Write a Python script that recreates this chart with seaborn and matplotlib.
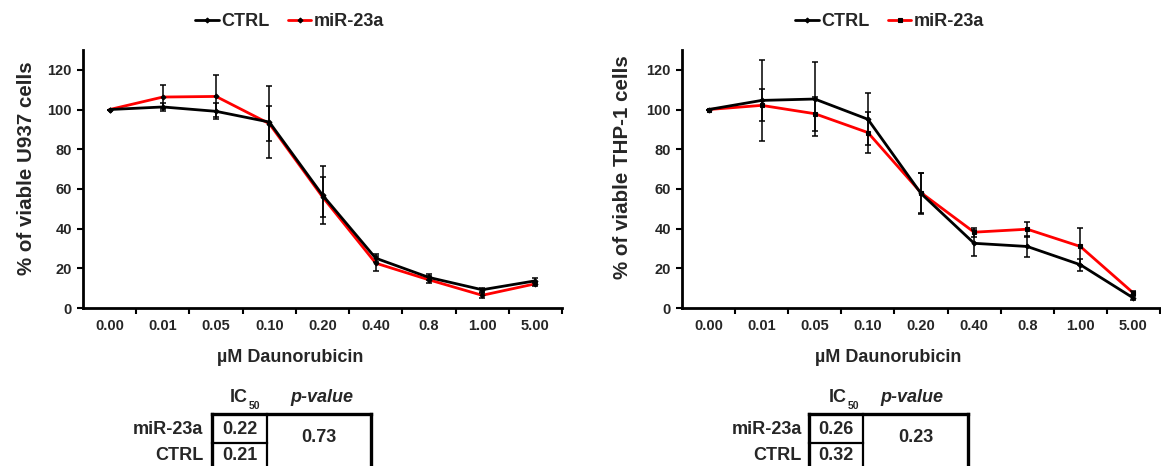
import numpy as np
import pandas as pd
import matplotlib
matplotlib.use("Agg")
import matplotlib.pyplot as plt
from matplotlib.lines import Line2D
import seaborn as sns

# ---------------- data ----------------
doses = ["0.00", "0.01", "0.05", "0.10", "0.20", "0.40", "0.8", "1.00", "5.00"]

u937_ctrl = [100, 101.3, 99.1, 93.7, 56.9, 25.1, 15.4, 9.2, 13.7]
u937_ctrl_err = [0, 2.0, 4.0, 18.0, 14.5, 2.0, 1.5, 1.0, 1.3]
u937_mir = [100, 106.3, 106.6, 92.9, 56.0, 22.6, 14.2, 6.4, 12.2]
u937_mir_err = [0, 6.0, 10.6, 9.0, 10.0, 3.8, 1.8, 1.4, 1.0]

thp1_ctrl = [100, 104.6, 105.3, 95.1, 57.7, 32.6, 31.0, 21.8, 5.0]
thp1_ctrl_err = [0, 20.5, 18.5, 13.0, 10.5, 6.5, 5.5, 3.0, 1.0]
thp1_mir = [100, 102.1, 97.9, 88.4, 58.1, 38.2, 39.7, 31.0, 7.5]
thp1_mir_err = [0, 8.0, 8.5, 10.5, 10.0, 2.3, 3.8, 9.5, 1.0]

series_names = ["CTRL", "miR-23a"]
ylabels = ["% of viable U937 cells", "% of viable THP-1 cells"]
xlabel = "\u00b5M Daunorubicin"
ic50_u937 = ["0.22", "0.21"]
ic50_thp1 = ["0.26", "0.32"]
pvals = ["0.73", "0.23"]
yticks = [0, 20, 40, 60, 80, 100, 120]

# ---------------- style ----------------
sns.set_style("ticks")
plt.rcParams["font.family"] = ["Liberation Sans", "DejaVu Sans"]
plt.rcParams["font.weight"] = "bold"
plt.rcParams["axes.labelweight"] = "bold"

W, H = 1161, 466
fig = plt.figure(figsize=(W / 100, H / 100), dpi=100)


def fx(px):
    return px / W


def fy(py):
    return 1 - py / H


def make_panel(x0, x1, ctrl, ctrl_err, mir, mir_err, ylabel, mir_marker, mir_ms,
               ylab_x, ylab_y, leg_cx):
    ax = fig.add_axes([fx(x0), fy(308), fx(x1 - x0), (308 - 50) / H])
    pos = np.arange(len(doses))
    df_m = pd.DataFrame({"pos": pos, "val": mir})
    df_c = pd.DataFrame({"pos": pos, "val": ctrl})
    sns.lineplot(data=df_m, x="pos", y="val", color="#ff0000", lw=2.0,
                 marker=mir_marker, markersize=mir_ms, markerfacecolor="black",
                 markeredgecolor="black", markeredgewidth=0.8, ax=ax,
                 label="miR-23a", zorder=2)
    sns.lineplot(data=df_c, x="pos", y="val", color="black", lw=2.0,
                 marker="D", markersize=2.5, markerfacecolor="black",
                 markeredgecolor="black", markeredgewidth=0.8, ax=ax,
                 label="CTRL", zorder=3)
    ax.errorbar(pos, mir, yerr=mir_err, fmt="none", ecolor="black",
                elinewidth=1.1, capsize=2.5, capthick=1.1, zorder=4)
    ax.errorbar(pos, ctrl, yerr=ctrl_err, fmt="none", ecolor="black",
                elinewidth=1.1, capsize=2.5, capthick=1.1, zorder=4)

    ax.set_xlim(-0.5, len(doses) - 0.5)
    ax.set_ylim(0, 130)
    ax.set_xticks(pos)
    ax.set_xticklabels(doses, fontsize=10.5, fontweight="bold")
    ax.set_xticks(np.arange(0.5, len(doses), 1.0), minor=True)
    ax.tick_params(axis="x", which="major", length=0, pad=8)
    ax.tick_params(axis="x", which="minor", length=4, width=1.5,
                   direction="out", color="black")
    ax.set_yticks(yticks)
    ax.set_yticklabels([str(t) for t in yticks], fontsize=10.5,
                       fontweight="bold")
    ax.tick_params(axis="y", length=4, width=1.5, direction="out",
                   color="black", pad=4)
    for s in ["top", "right"]:
        ax.spines[s].set_visible(False)
    for s in ["left", "bottom"]:
        ax.spines[s].set_linewidth(2.0)
        ax.spines[s].set_color("black")

    ax.set_ylabel(ylabel, fontsize=14.8, fontweight="bold")
    ax.yaxis.set_label_coords(ylab_x, ylab_y)
    ax.set_xlabel(xlabel, fontsize=13, fontweight="bold")
    ax.xaxis.set_label_coords(0.432, -0.19)
    ax.xaxis.label.set_va("center")

    handles, labels = ax.get_legend_handles_labels()
    ax.get_legend().remove()
    order = [labels.index("CTRL"), labels.index("miR-23a")]
    fig.legend([handles[i] for i in order], [labels[i] for i in order],
               loc="center", bbox_to_anchor=(fx(leg_cx), fy(22)), ncol=2,
               frameon=False, handlelength=1.3, handletextpad=0.15,
               columnspacing=1.0, prop={"size": 13, "weight": "bold"},
               borderaxespad=0, borderpad=0)
    return ax


make_panel(83, 562, u937_ctrl, u937_ctrl_err, u937_mir, u937_mir_err,
           ylabels[0], "D", 2.5, -0.098, 0.54, 290)
make_panel(682, 1160, thp1_ctrl, thp1_ctrl_err, thp1_mir, thp1_mir_err,
           ylabels[1], "s", 3.5, -0.105, 0.545, 890)


def line(xs, ys, lw):
    fig.add_artist(Line2D([fx(x) for x in xs], [fy(y) for y in ys],
                          color="black", lw=lw, solid_capstyle="projecting"))


def table(xl, xd, xr, lab_right, ic_vals, pval, ic_right, pv_cx):
    top, mid, bottom = 414, 443, 470
    line([xl, xr], [top, top], 2.4)
    line([xl, xl], [top, bottom], 2.4)
    line([xr, xr], [top, bottom], 2.4)
    line([xd, xd], [top, bottom], 1.6)
    line([xl, xd], [mid, mid], 1.6)
    cx = (xl + xd) / 2
    for name, val, y in zip(["miR-23a", "CTRL"], ic_vals, [430, 456]):
        fig.text(fx(lab_right), fy(y), name, ha="right", va="center",
                 fontsize=13, fontweight="bold")
        fig.text(fx(cx), fy(y), val, ha="center", va="center",
                 fontsize=13, fontweight="bold")
    fig.text(fx((xd + xr) / 2), fy(438), pval, ha="center", va="center",
             fontsize=13, fontweight="bold")
    fig.text(fx(ic_right), fy(397), "IC", ha="right", va="center",
             fontsize=13, fontweight="bold")
    fig.text(fx(ic_right + 0.5), fy(406), "50", ha="left", va="center",
             fontsize=7.5, fontweight="bold")
    fig.text(fx(pv_cx), fy(397), "p-value", ha="center", va="center",
             fontsize=13, fontweight="bold", style="italic")


table(212, 267, 371, 203, ic50_u937, pvals[0], 248, 322)
table(809, 863, 968, 802, ic50_thp1, pvals[1], 847, 912)

fig.savefig("out.png", dpi=100)
